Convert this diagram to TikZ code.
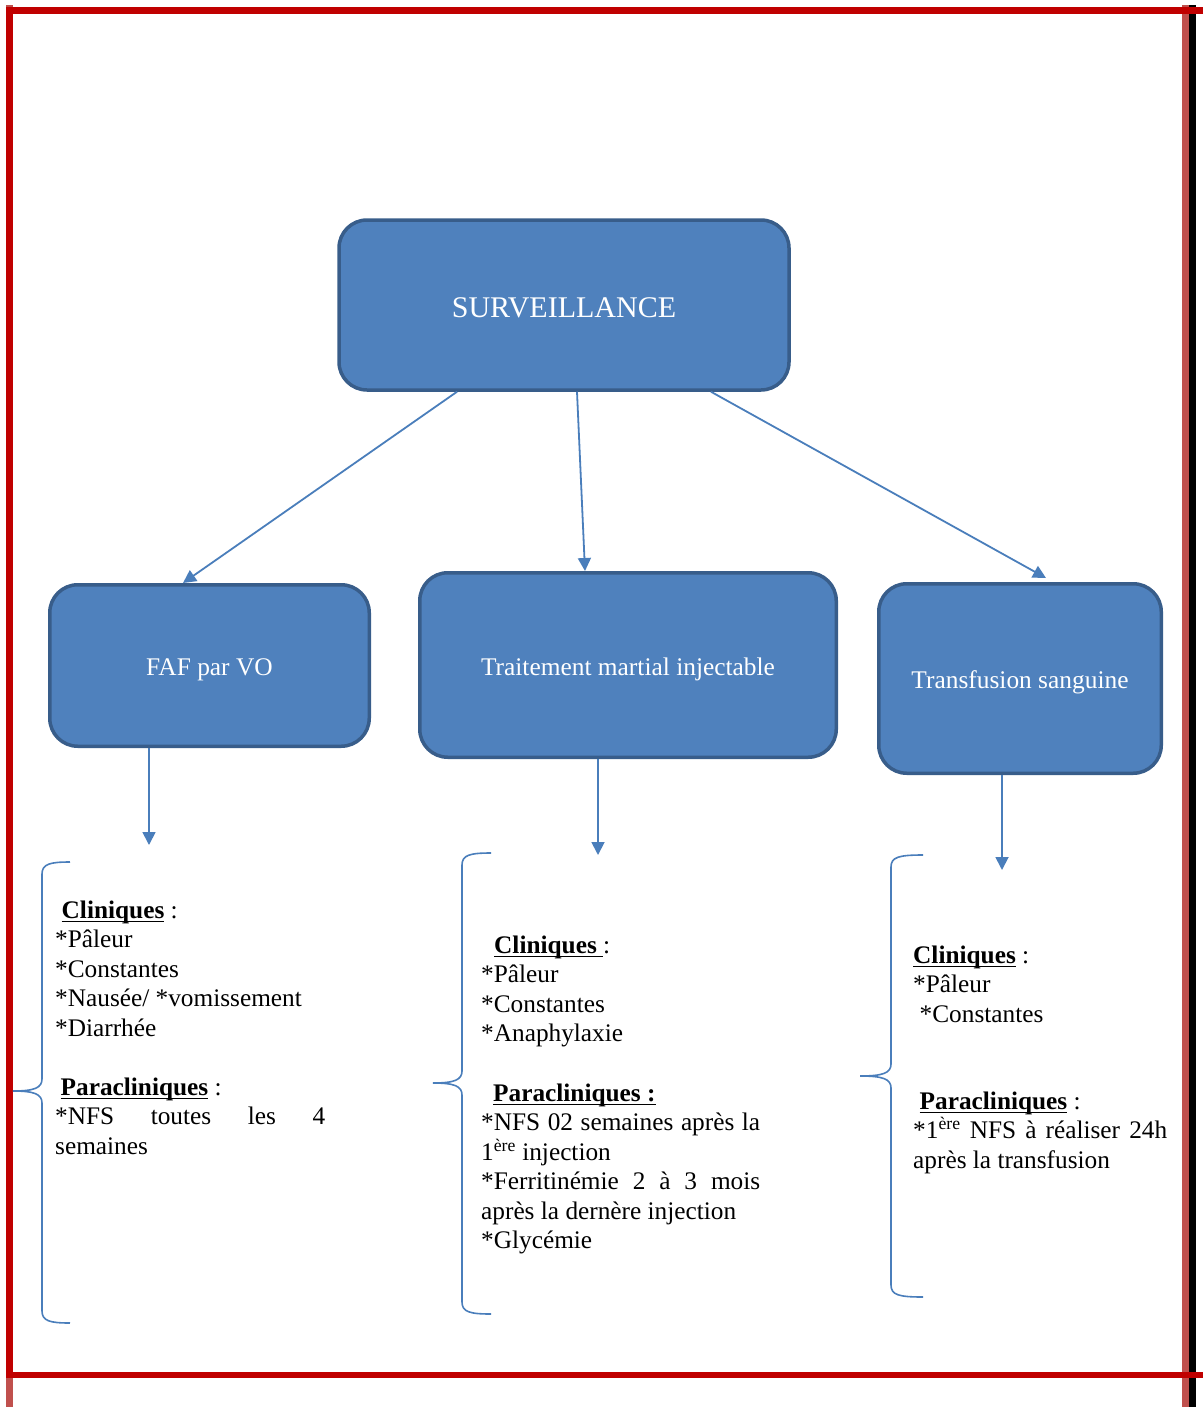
\documentclass[tikz,border=0pt]{standalone}
\usepackage{fontspec}
\setmainfont{Liberation Serif}
\usepackage{tikz}
\usetikzlibrary{arrows.meta}
\definecolor{bleu}{HTML}{4F81BD}
\definecolor{bleubord}{HTML}{385D8A}
\definecolor{bleutrait}{HTML}{4A7EBB}
\definecolor{rouge}{HTML}{C00000}
\definecolor{rougeclair}{HTML}{C0504D}
\newcommand{\soustitre}[1]{\setbox0\hbox{\textbf{#1}}\rlap{\rule[-4pt]{\wd0}{1.6pt}}\box0\relax}
\begin{document}
\begin{tikzpicture}[x=1pt, y=-1pt,
                boite/.style={draw=bleubord, line width=3.5pt, fill=bleu, rounded corners=28pt, text=white, inner sep=0pt, text height=20pt, text depth=0pt, font={\fontsize{25.4}{30}\selectfont}},
                fleche/.style={draw=bleutrait, line width=1.8pt, -{Triangle[length=13pt,width=13pt]}},
                accolade/.style={draw=bleutrait, line width=1.6pt},
                bloc/.style={anchor=north west, inner sep=0pt, align=justify, font={\fontsize{25.3}{29.5}\selectfont\parindent=0pt\tolerance=10000\hyphenpenalty=10000}}]
                \useasboundingbox (0,0) rectangle (1203,1407);
                \fill[rougeclair] (1182,5) rectangle (1189,1407);
                \fill[black] (1189,5) rectangle (1196,1407);
                \fill[rougeclair] (6,5) rectangle (13,1407);
                \draw[rouge, line width=6.5pt] (1203,10.5) -- (9.5,10.5) -- (9.5,1375) -- (1203,1375);
                \node[boite, minimum width=450pt, minimum height=170pt, text height=25pt, font={\fontsize{30}{34}\selectfont}] (surv) at (564,305) {SURVEILLANCE};
                \node[boite, minimum width=319.5pt, minimum height=161.5pt] (faf) at (209.5,665.5) {FAF par VO};
                \node[boite, minimum width=416.5pt, minimum height=184.5pt] (trait) at (628,665) {Traitement martial injectable};
                \node[boite, minimum width=282.5pt, minimum height=189.5pt] (transf) at (1020,678.5) {Transfusion sanguine};
                \draw[fleche] ([xshift=-107pt]surv.south) -- ([xshift=-26.5pt]faf.north);
                \draw[fleche] ([xshift=13pt]surv.south) -- ([xshift=-43pt]trait.north);
                \draw[fleche] ([xshift=147pt]surv.south) -- ([xshift=26pt,yshift=4pt]transf.north);
                \coordinate (bas1) at (149,845);
                \coordinate (bas2) at (598,855);
                \coordinate (bas3) at (1002,870);
                \draw[fleche] (faf.south -| bas1) -- (bas1);
                \draw[fleche] (trait.south -| bas2) -- (bas2);
                \draw[fleche] (transf.south -| bas3) -- (bas3);
                \foreach \xa/\xp/\xb/\ya/\ym/\yb in {42/13/70/862/1091/1323, 462/433/491/853/1083/1314, 891/860/923/855/1076/1297}
                    \draw[accolade] (\xb,\ya) .. controls (\xa+8,\ya) and (\xa,\ya+2) .. (\xa,\ya+12) -- (\xa,\ym-12)
                        .. controls (\xa,\ym-3) and (\xa-8,\ym) .. (\xp,\ym) .. controls (\xa-8,\ym) and (\xa,\ym+3) .. (\xa,\ym+12)
                        -- (\xa,\yb-12) .. controls (\xa,\yb-2) and (\xa+8,\yb) .. (\xb,\yb);
                \node[bloc, text width=270pt] (suivi1) at (55,897.4) {\strut\hspace*{6.5pt}\soustitre{Cliniques} :\\
                    {*}Pâleur\\
                    {*}Constantes\\
                    {*}Nausée/ *vomissement\\
                    {*}Diarrhée\\[29.5pt]
                    \hspace*{5.5pt}\soustitre{Paracliniques} :\\
                    {*}NFS toutes les 4\linebreak semaines};
                \node[bloc, text width=279pt] (suivi2) at (481,932.4) {\strut\hspace*{13pt}\soustitre{Cliniques\ }:\\
                    {*}Pâleur\\
                    {*}Constantes\\
                    {*}Anaphylaxie\\[30pt]
                    \hspace*{12pt}\soustitre{Paracliniques :}\\
                    {*}NFS 02 semaines après la 1\textsuperscript{ère} injection\\
                    {*}Ferritinémie 2 à 3 mois après la dernère injection\\
                    {*}Glycémie};
                \node[bloc, text width=254pt] (suivi3) at (913,942.4) {\strut\soustitre{Cliniques} :\\
                    {*}Pâleur\\
                    \hspace*{6.5pt}{*}Constantes\\[57.5pt]
                    \hspace*{6.5pt}\soustitre{Paracliniques} :\\
                    {*}1\textsuperscript{ère} NFS à réaliser 24h après la transfusion};
            \end{tikzpicture}
\end{document}
